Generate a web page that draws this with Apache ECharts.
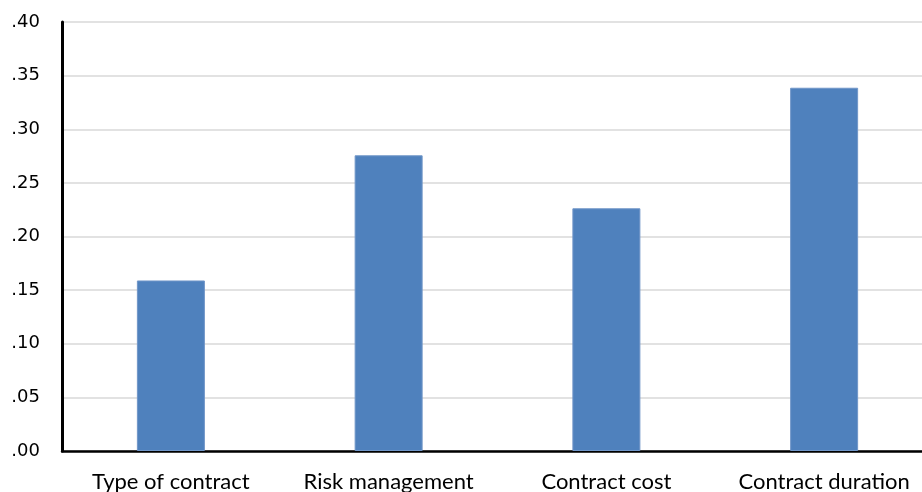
<!DOCTYPE html>
<html>
<head>
<meta charset="utf-8">
<script src="https://cdn.jsdelivr.net/npm/echarts@6/dist/echarts.min.js"></script>
<style>
html,body{margin:0;padding:0;background:#fff;overflow:hidden;width:922px;height:492px;}
#chart{width:934px;height:492px;}
</style>
</head>
<body>
<div id="chart"></div>
<script>
const categories = ['Type of contract', 'Risk management', 'Contract cost', 'Contract duration'];
const values = [0.159, 0.2757, 0.2263, 0.3387];
const yTicks = { min: 0, max: 0.40, interval: 0.05 };

const chart = echarts.init(document.getElementById('chart'), null, { renderer: 'canvas' });
chart.setOption({
  animation: false,
  backgroundColor: '#ffffff',
  grid: { left: 62, top: 22, bottom: 41, right: 1, containLabel: false, outerBoundsMode: 'none' },
  xAxis: {
    type: 'category',
    data: categories,
    axisLine: { show: true, lineStyle: { color: '#000', width: 2.5 } },
    axisTick: { show: false },
    axisLabel: { color: '#000', fontFamily: 'Lato', fontSize: 22, margin: 20, interval: 0, hideOverlap: false },
    splitLine: { show: false }
  },
  yAxis: {
    type: 'value',
    min: yTicks.min, max: yTicks.max, interval: yTicks.interval,
    axisLine: { show: true, lineStyle: { color: '#000', width: 3 } },
    axisTick: { show: false },
    axisLabel: {
      color: '#000', fontFamily: 'DejaVu Sans', fontSize: 18, margin: 22,
      formatter: v => v.toFixed(2).replace(/^0/, '')
    },
    splitLine: { show: true, lineStyle: { color: '#d9d9d9', width: 1.5 } }
  },
  series: [{
    type: 'bar',
    data: values,
    barWidth: 68,
    itemStyle: { color: '#4f81bd', borderColor: '#7096c8', borderWidth: 1 }
  }]
});
</script>
</body>
</html>
